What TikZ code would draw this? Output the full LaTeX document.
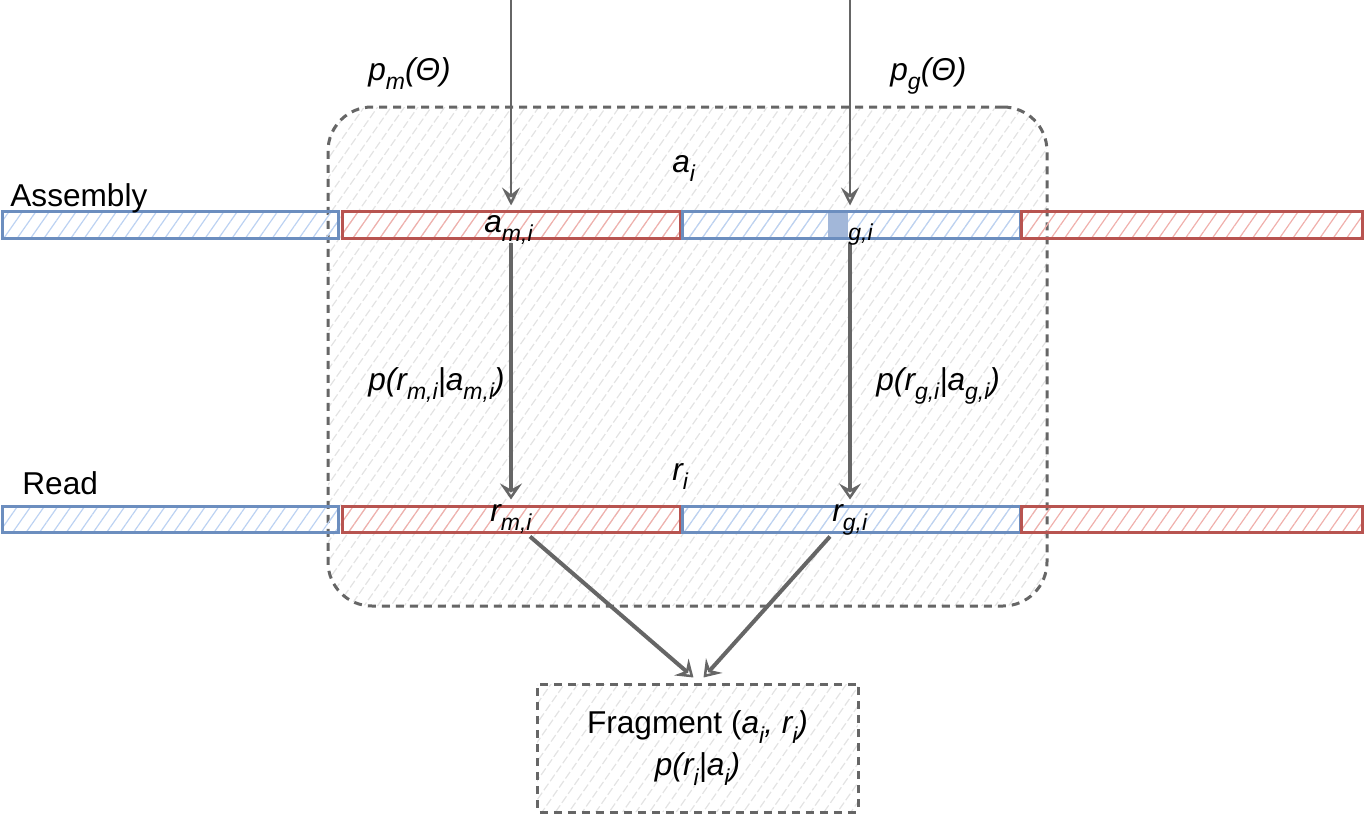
\documentclass[tikz,border=0pt]{standalone}
\usepackage{fontspec}
\setmainfont{Liberation Sans}
\usetikzlibrary{arrows.meta,patterns.meta,calc}
\definecolor{bstroke}{HTML}{6C8EBF}
\definecolor{bhatch}{HTML}{BCD2F2}
\definecolor{rhatch}{HTML}{F0B0AC}
\definecolor{rstroke}{HTML}{B85450}
\definecolor{gline}{HTML}{666666}
\definecolor{ghatch}{HTML}{E3E3E3}
\definecolor{sqfill}{HTML}{A2B7D9}
\newcommand\lsub[1]{\raisebox{-0.55ex}{\fontsize{11.5}{12}\selectfont #1}}
\begin{document}
\begin{tikzpicture}[x=0.5pt,y=-0.5pt,
  lbl/.style={font=\fontsize{15.8}{17}\selectfont, inner sep=0, anchor=base west},
  barbox/.style={inner sep=0, line width=1.5pt},
  bluebar/.style={barbox, draw=bstroke, pattern={Lines[angle=55,distance=5.5pt,line width=0.6pt]}, pattern color=bhatch},
  redbar/.style={barbox, draw=rstroke, pattern={Lines[angle=55,distance=5.5pt,line width=0.6pt]}, pattern color=rhatch},
  asmrow/.style={minimum height=13.5pt},
  readrow/.style={minimum height=13pt},
  groupbox/.style={inner sep=0, draw=gline, line width=1.5pt, dash pattern=on 4pt off 3pt,
     pattern={Lines[angle=55,distance=5.5pt,line width=0.6pt]}, pattern color=ghatch},
  thinarr/.style={draw=gline, line width=1.2pt, -{Stealth[open, length=9pt, width=9pt, inset=3.5pt]}},
  thickarr/.style={draw=gline, line width=2pt, -{Stealth[open, length=8pt, width=11pt, inset=3pt]}},
]
\useasboundingbox (0,0) rectangle (1367,819);

% container
\node[groupbox, rounded corners=22pt, minimum width=359.5pt, minimum height=249.5pt] (box) at (687.5,356.5) {};

% fragment box
\node[groupbox, rounded corners=1pt, minimum width=160.5pt, minimum height=64pt, align=center,
      font=\fontsize{15.8}{17}\selectfont] (frag) at (697.5,748)
  {Fragment (\textit{a\lsub{i}, r\lsub{i})}\\[4pt]\textit{p(r\lsub{i}|a\lsub{i})}};

% assembly row
\node[bluebar, asmrow, minimum width=168pt]   (a1) at (170,224.5) {};
\node[redbar,  asmrow, minimum width=169pt]   (am) at (511,224.5) {};
\node[bluebar, asmrow, minimum width=169pt]   (ag) at (851,224.5) {};
\node[redbar,  asmrow, minimum width=170.5pt] (a4) at (1191.5,224.5) {};
\node[fill=sqfill, inner sep=0, minimum width=10pt, minimum height=12pt] (sq) at (838,224.5) {};

% read row
\node[bluebar, readrow, minimum width=168pt]   (r1) at (170,519) {};
\node[redbar,  readrow, minimum width=169pt]   (rm) at (511,519) {};
\node[bluebar, readrow, minimum width=169pt]   (rg) at (851,519) {};
\node[redbar,  readrow, minimum width=170.5pt] (r4) at (1191.5,519) {};

% arrows
\coordinate (tm) at (511,0);
\coordinate (tg) at (850,0);
\draw[thinarr] (tm) -- ($(am.north)+(0,-4)$);
\draw[thinarr] (tg) -- ($(tg |- ag.north)+(0,-4)$);
\draw[thickarr] ($(am.south)+(0,3)$) -- ($(rm.north)+(0,-5)$);
\draw[thickarr] ($(ag.south)+(-1,3)$) -- ($(rg.north)+(-1,-5)$);
\draw[thickarr] ($(rm.south)+(19,3)$) -- ($(frag.north)+(-4,-5)$);
\draw[thickarr] ($(rg.south)+(-21,3)$) -- ($(frag.north)+(6,-5)$);

% labels
\node[lbl] (asm) at (10,206) {Assembly};
\node[lbl] (rd)  at (22,494) {Read};
\node[lbl] (pm)  at (368,80) {\textit{p\lsub{m}(Θ)}};
\node[lbl] (pg)  at (890,80) {\textit{p\lsub{g}(Θ)}};
\node[lbl] (ai)  at (672,172) {\textit{a\lsub{i}}};
\node[lbl] (aml) at (484,232) {\textit{a\lsub{m,i}}};
\node[lbl, font=\fontsize{11.5}{12}\selectfont] (gl) at (848,240) {\textit{g,i}};
\node[lbl] (prm) at (368,390) {\textit{p(r\lsub{m,i}|a\lsub{m,i})}};
\node[lbl] (prg) at (876,390) {\textit{p(r\lsub{g,i}|a\lsub{g,i})}};
\node[lbl] (ri)  at (672,480) {\textit{r\lsub{i}}};
\node[lbl] (rml) at (490,521) {\textit{r\lsub{m,i}}};
\node[lbl] (rgl) at (832,521) {\textit{r\lsub{g,i}}};
\end{tikzpicture}
\end{document}
